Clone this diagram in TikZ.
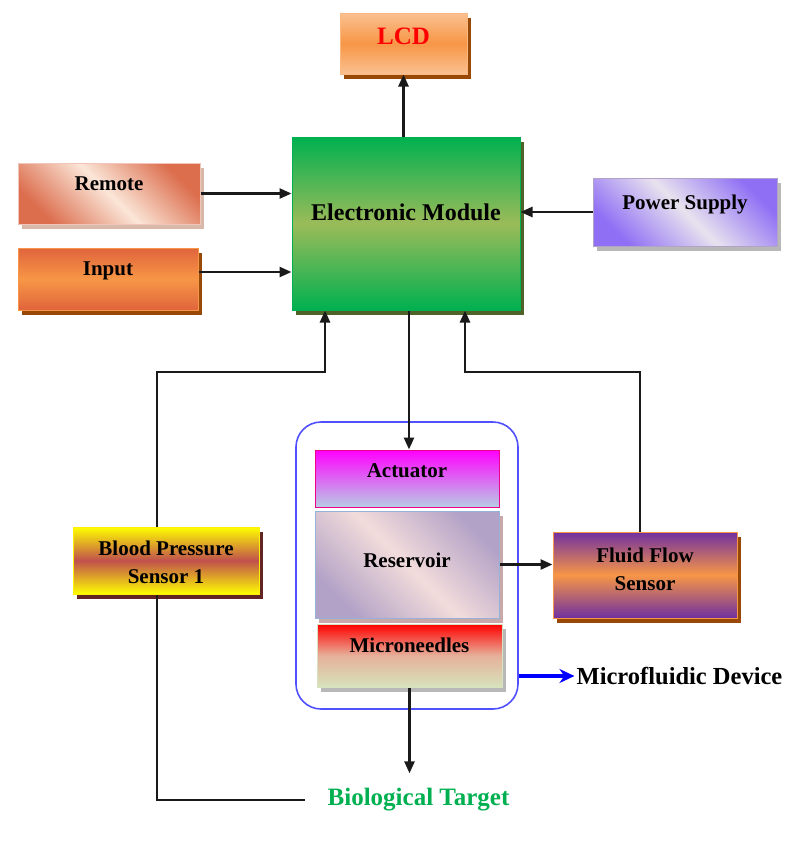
\documentclass[tikz,border=0pt]{standalone}
\usepackage{fontspec}
\setmainfont{Liberation Serif}
\usetikzlibrary{arrows.meta,shadows}
\definecolor{lcdA}{HTML}{FAC090}
\definecolor{lcdB}{HTML}{F79646}
\definecolor{brownS}{HTML}{984807}
\definecolor{emA}{HTML}{00B050}
\definecolor{emB}{HTML}{9BBB59}
\definecolor{emS}{HTML}{4F6228}
\definecolor{remA}{HTML}{DC6E4E}
\definecolor{remB}{HTML}{FBE6D8}
\definecolor{remS}{HTML}{D8B8A8}
\definecolor{inA}{HTML}{E0643C}
\definecolor{psA}{HTML}{8F70F5}
\definecolor{psB}{HTML}{E8E2EE}
\definecolor{psL}{HTML}{B2A2C7}
\definecolor{actB}{HTML}{B8CCE4}
\definecolor{resA}{HTML}{B3A2C7}
\definecolor{resB}{HTML}{F2DCDB}
\definecolor{resL}{HTML}{95B3D7}
\definecolor{resS}{HTML}{C8A8A8}
\definecolor{mnB}{HTML}{D6E3BC}
\definecolor{mnM}{HTML}{E6B09A}
\definecolor{bpM}{HTML}{C0504D}
\definecolor{bpS}{HTML}{632523}
\definecolor{ffA}{HTML}{7030A0}
\definecolor{devL}{HTML}{5050FF}
\definecolor{lineC}{HTML}{1A1A1A}
\definecolor{grayS}{HTML}{B8B8B8}
\tikzset{
  box/.style={rectangle, inner sep=0pt, line width=1pt, font=\fontsize{21}{28}\selectfont\bfseries, align=center},
  shad/.style={general shadow={fill=#1, shadow xshift=4pt, shadow yshift=-5pt}},
  lift/.style={text height=14pt, text depth=#1},
  conn/.style={draw=lineC, line width=2.5pt, -{Triangle[length=12pt,width=10pt]}},
  plain/.style={draw=lineC, line width=2.5pt},
}
\begin{document}
\begin{tikzpicture}[x=1pt,y=-1pt]
\useasboundingbox (0,0) rectangle (810,860);

% container
\node[draw=devL, line width=1.6pt, rounded corners=25pt, minimum width=222pt, minimum height=287pt] (dev) at (407,565.5) {};

% boxes
\node[box, shad=brownS, draw=lcdA!80!lcdB, top color=lcdA, bottom color=lcdA, middle color=lcdB,
      minimum width=127pt, minimum height=61pt, font=\fontsize{25}{28}\selectfont\bfseries,
      text height=16.5pt, text depth=15pt, text=red] (lcd) at (403.5,43.5) {LCD};
\node[box, shad=emS, draw=emA, top color=emA, bottom color=emA, middle color=emB,
      minimum width=228pt, minimum height=173pt, font=\fontsize{24}{28}\selectfont\bfseries,
      text height=16pt, text depth=23pt] (em) at (406,223.5) {Electronic Module};
\node[box, shad=remS, draw=remA!40!white, left color=remA, right color=remA, middle color=remB, shading angle=135,
      minimum width=182pt, minimum height=61pt, lift=21pt] (rem) at (109,193.5) {Remote};
\node[box, shad=brownS, draw=lcdB, top color=inA, bottom color=inA, middle color=lcdB,
      minimum width=180pt, minimum height=62pt, lift=22pt] (inp) at (108,279) {Input};
\node[box, shad=grayS, draw=psL, left color=psA, right color=psA, middle color=psB, shading angle=135,
      minimum width=184pt, minimum height=68pt, lift=20pt] (ps) at (685,212) {Power Supply};
\node[box, draw=magenta, top color=magenta, bottom color=actB,
      minimum width=184pt, minimum height=57pt, lift=17pt] (act) at (407,478.5) {Actuator};
\node[box, shad=resS, draw=resL, left color=resA, right color=resA, middle color=resB, shading angle=135,
      minimum width=184pt, minimum height=107pt, lift=9pt] (res) at (407,564.5) {Reservoir};
\node[box, shad=grayS, draw=mnB, top color=red, bottom color=mnB, middle color=mnM,
      minimum width=185pt, minimum height=63pt, lift=21pt] (mn) at (409.5,655.5) {Microneedles};
\node[box, shad=bpS, draw=yellow, top color=yellow, bottom color=yellow, middle color=bpM,
      minimum width=186pt, minimum height=67pt, text height=45pt, text depth=0pt] (bp) at (166,560.5) {Blood Pressure\\Sensor 1};
\node[box, shad=brownS, draw=lcdB, top color=ffA, bottom color=ffA, middle color=lcdB,
      minimum width=184pt, minimum height=86pt, text height=44pt, text depth=14pt] (ffs) at (645,575) {Fluid Flow\\Sensor};

% free labels
\node[font=\fontsize{24.5}{28}\selectfont\bfseries, inner sep=2pt] (md) at (679.5,676) {Microfluidic Device};
\node[font=\fontsize{25}{28}\selectfont\bfseries, text=emA, inner sep=2pt] (bt) at (418.5,800) {Biological Target};

\coordinate (j1) at (325,372);
\coordinate (j2) at (465,372);

% connectors
\draw[conn] (lcd.south |- em.north) -- (lcd.south);
\draw[conn] (rem.east) -- (rem.east -| em.west);
\draw[conn] ([yshift=7pt]inp.east) -- ([yshift=7pt]inp.east -| em.west);
\draw[conn] (ps.west) -- (ps.west -| em.east);
\draw[conn] ([xshift=3pt]em.south) -- ([xshift=3pt]em.south |- act.north);
\draw[conn] ([xshift=-9pt]bp.north) |- (j1) -- (j1 |- em.south);
\draw[conn] ([xshift=-5pt]ffs.north) |- (j2) -- (j2 |- em.south);
\draw[conn] (res.east) -- (res.east -| ffs.west);
\draw[conn, shorten >=13pt] (mn.south) -- (mn.south |- bt.north);
\draw[plain] ([xshift=-9pt]bp.south) |- ([xshift=-20pt]bt.west);
\draw[draw=blue, line width=3.5pt, -{Stealth[length=15pt,width=14pt]}] (dev.east |- md.west) -- (md.west);
\end{tikzpicture}
\end{document}
